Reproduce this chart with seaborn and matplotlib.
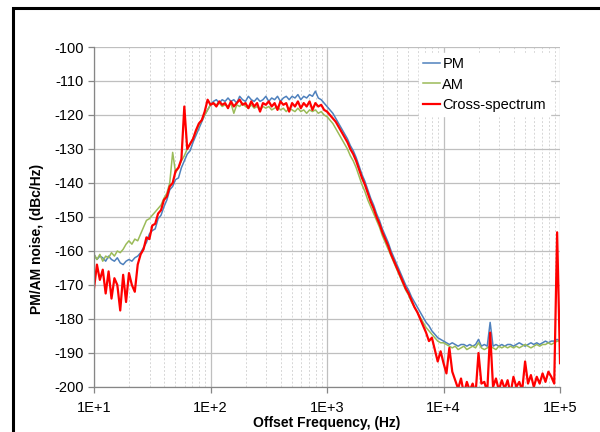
import numpy as np
import matplotlib
matplotlib.use("Agg")
import matplotlib.pyplot as plt
from matplotlib.patches import Rectangle
from matplotlib.ticker import FixedLocator, FuncFormatter, NullFormatter
import seaborn as sns

# Offset frequency grid, 40 samples per decade from 10 Hz to 100 kHz
freq = np.logspace(1, 5, 161)

# Values (dBc/Hz)
pm = [
    # 10 Hz - 100 Hz
    -161, -162.5, -161.5, -162, -163, -161.5, -162.5, -163, -162, -163.5,
    -164, -163, -162.5, -163, -162, -161.5, -160.5, -159, -157.5, -155,
    -154, -153.5, -150.5, -149.5, -147, -145, -142, -141, -139, -138.5,
    -135.5, -133.5, -131.5, -130.5, -128, -126, -124, -122, -120, -118.5,
    -117,
    # plateau
    -116, -115.5, -116.5, -115.5, -116, -115, -116, -115.5, -116.5, -114.5,
    -115.5, -116, -114.5, -115.5, -116, -115, -116, -115.5, -114.5, -116,
    -115, -115.5, -114.5, -116, -115, -114.5, -115.5, -114.5, -115, -114,
    -115.5, -114.5, -115, -114, -114.5, -113, -115, -115.5, -116.5,
    # 1 kHz - 10 kHz
    -117.5, -118.5, -119.5, -121, -122.5, -124, -125.5, -127, -129, -130.5,
    -132.5, -135, -137.5, -139.5, -142, -144.5, -146.5, -149, -151, -153.5,
    -155.5, -157.5, -160, -162, -164, -166, -168, -170, -171.5, -173.5,
    -175, -176.5, -178, -179.5, -181, -182, -183.5, -184.5, -185.5, -186,
    -186.5,
    # 10 kHz - 100 kHz
    -187, -187.5, -187, -187.5, -188, -187.5, -187.5, -188, -187.5, -188,
    -187.5, -186, -188, -187.5, -188, -181, -188, -187.5, -188, -187.5,
    -188, -187.5, -187.5, -188, -187.5, -187, -187.5, -188, -187.5, -187,
    -187.5, -187, -187.5, -187, -186.5, -187, -186.5, -186.5, -186, -186.5,
]
am = [
    -161, -162.5, -161, -163, -161.5, -162, -160.5, -161.5, -160, -160.5,
    -159.5, -158, -157, -158, -156.5, -157, -155, -153, -151, -150.5,
    -149.5, -148.5, -147.5, -146.5, -144.5, -143, -140, -131, -137, -135.5,
    -133.5, -132, -130, -128.5, -127, -125, -123, -121.5, -120, -118.5,
    -117,
    -116.5, -117, -116.5, -117.5, -117, -117.5, -116.5, -119.5, -117, -117.5,
    -116.5, -117.5, -118, -117, -118, -117.5, -118.5, -117.5, -118, -117.5,
    -118.5, -118, -117.5, -118.5, -118, -119, -118, -118.5, -119, -118,
    -119, -118.5, -119.5, -118.5, -119, -118.5, -119.5, -119, -120,
    -120.5, -121.5, -122.5, -124, -125.5, -127, -128.5, -130, -132, -133.5,
    -135.5, -138, -140.5, -142.5, -145, -147, -149, -151, -153, -155.5,
    -157.5, -159.5, -161.5, -163.5, -165.5, -167.5, -169.5, -171.5, -173, -175,
    -176.5, -178, -179.5, -181, -182.5, -183.5, -184.5, -185.5, -186.5, -187,
    -187,
    -187.5, -188, -188.5, -188, -189, -188.5, -188, -189, -188.5, -188,
    -188.5, -187, -188.5, -189, -188.5, -188, -188.5, -189, -188, -188.5,
    -188, -188.5, -188, -188.5, -188, -188.5, -188, -187.5, -188, -188.5,
    -188, -187.5, -188, -187.5, -187.5, -187, -187.5, -187, -186.5, -186.5,
]
cross = [
    -171, -164, -168.5, -165.5, -172.5, -166, -174, -168, -170, -177.5,
    -167, -175, -166.5, -170, -172, -164, -161, -159.5, -156, -156.5,
    -152.5, -152, -149, -148, -145, -144, -141, -140, -136.5, -135.5,
    -133, -117.5, -130, -128.5, -127, -124.5, -122.5, -121.5, -119, -115.5,
    -117,
    -116.5, -117.5, -116, -117, -116.5, -118, -116, -117.5, -116.5, -115.5,
    -117, -116.5, -118, -116, -117.5, -116.5, -119, -116.5, -117, -116,
    -117.5, -116.5, -118.5, -116, -117, -116.5, -119, -116.5, -117.5, -116,
    -118, -116.5, -117.5, -116, -118.5, -116.5, -117.5, -117, -118.5,
    -119, -120, -121, -122, -123.5, -125, -126.5, -128, -130, -131.5,
    -133.5, -136, -138.5, -140.5, -143, -145.5, -147.5, -150, -152, -154.5,
    -156.5, -158.5, -161, -163, -165, -167, -169, -171, -172.5, -174.5,
    -176.5, -178, -180, -182, -184, -186.5, -185.5, -189, -192.5, -189.5,
    -193,
    -196, -188.5, -195.5, -198, -200.5, -197.5, -202, -198.5, -201, -199,
    -202, -190, -199, -198.5, -201.5, -184, -200, -197.5, -201, -198,
    -200.5, -198, -202, -197, -200, -198.5, -201, -192.5, -199, -196.5,
    -200, -197, -199, -196, -198.5, -195.5, -197, -199, -154.5, -193,
]
series_names = ["PM", "AM", "Cross-spectrum"]
colors = ["#4f81bd", "#9bbb59", "#ff0000"]

plt.rcParams["font.family"] = ["Liberation Sans", "DejaVu Sans"]
plt.rcParams["axes.unicode_minus"] = False

fig = plt.figure(figsize=(6, 4.32), dpi=100)
ax = fig.add_axes([0.1567, 0.1042, 0.7767, 0.787])

# black frame around the whole picture
fig.patches.append(Rectangle((0.022, -0.01), 1.0, 0.991, transform=fig.transFigure,
                             fill=False, edgecolor="black", linewidth=2.2))

for vals, name, col, lw in zip([pm, am, cross], series_names, colors, [1.1, 1.1, 1.6]):
    sns.lineplot(x=freq, y=vals, ax=ax, color=col, linewidth=lw, label=name)

ax.set_xscale("log")
ax.set_xlim(10, 1e5)
ax.set_ylim(-200, -100)
ax.set_yticks(np.arange(-200, -99, 10))
ax.xaxis.set_major_locator(FixedLocator([1e1, 1e2, 1e3, 1e4, 1e5]))
ax.xaxis.set_major_formatter(FuncFormatter(lambda v, p: "1E+%d" % round(np.log10(v))))
ax.xaxis.set_minor_locator(FixedLocator([m * 10**d for d in range(1, 5) for m in range(2, 10)]))
ax.xaxis.set_minor_formatter(NullFormatter())

ax.grid(True, which="major", axis="both", color="#bfbfbf", linewidth=0.9, linestyle="-")
ax.grid(True, which="minor", axis="x", color="#d6d6d6", linewidth=0.7, linestyle=(0, (2, 2)))
ax.set_axisbelow(True)

for s in ["top", "right"]:
    ax.spines[s].set_visible(False)
for s in ["left", "bottom"]:
    ax.spines[s].set_color("#868686")
    ax.spines[s].set_linewidth(0.9)
ax.tick_params(axis="both", which="major", labelsize=10.5, color="#868686", length=4, width=0.9)
ax.tick_params(axis="x", which="minor", length=0)
ax.tick_params(axis="x", pad=6)

ax.set_xlabel("Offset Frequency, (Hz)", fontsize=10, fontweight="bold", labelpad=1)
ax.set_ylabel("PM/AM noise, (dBc/Hz)", fontsize=10, fontweight="bold")
ax.yaxis.set_label_coords(-0.108, 0.435)

leg = ax.legend(loc="upper right", bbox_to_anchor=(0.995, 1.005), fontsize=10.5,
                handlelength=1.1, handletextpad=0.2, labelspacing=0.45,
                frameon=True, fancybox=False, borderpad=0.3)
leg.get_frame().set_facecolor("white")
leg.get_frame().set_edgecolor("white")
leg.get_frame().set_alpha(1)

fig.savefig("out.png", dpi=100)
